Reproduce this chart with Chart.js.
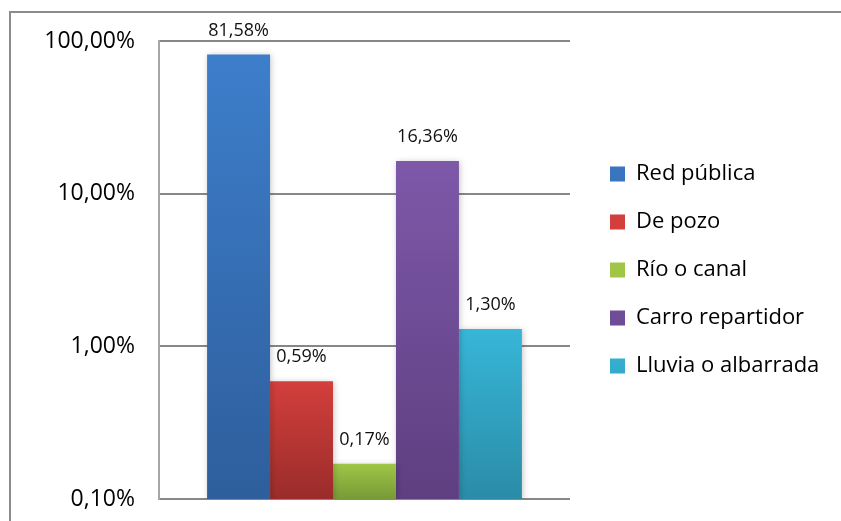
<!DOCTYPE html>
<html>
<head>
<meta charset="utf-8">
<script src="https://cdn.jsdelivr.net/npm/chart.js@4"></script>
<style>
  body { margin: 0; background: #fff; overflow: hidden; }
  #frame { position: absolute; left: 9px; top: 11px; width: 900px; height: 600px; border: 2px solid #8c8c8c; }
  canvas { position: absolute; left: 0; top: 0; }
</style>
</head>
<body>
<div id="frame"></div>
<canvas id="chart" width="841" height="521"></canvas>
<script>
const categories = [""];
const seriesNames = ["Red pública", "De pozo", "Río o canal", "Carro repartidor", "Lluvia o albarrada"];
const seriesValues = [81.58, 0.59, 0.17, 16.36, 1.30];
const yTicks = [0.1, 1, 10, 100];
const topColors = ["#3d7ecb", "#d33f3c", "#9fc647", "#7e58a9", "#37b6d8"];
const bottomColors = ["#2e5e9c", "#9a2c2a", "#779a36", "#5e3f80", "#2a8ca7"];

const fmt = v => v.toFixed(2).replace(".", ",") + "%";

function barGradient(i) {
  return function (c) {
    const chart = c.chart;
    const area = chart.chartArea;
    if (!area || !chart.scales.y) return topColors[i];
    const top = chart.scales.y.getPixelForValue(seriesValues[i]);
    const g = chart.ctx.createLinearGradient(0, top, 0, area.bottom);
    g.addColorStop(0, topColors[i]);
    g.addColorStop(1, bottomColors[i]);
    return g;
  };
}

const barShadow = {
  id: "barShadow",
  beforeDatasetsDraw(chart) {
    const ctx = chart.ctx;
    ctx.save();
    ctx.shadowColor = "rgba(0,0,0,0.22)";
    ctx.shadowBlur = 6;
    ctx.shadowOffsetX = 1;
    ctx.shadowOffsetY = 1;
  },
  afterDatasetsDraw(chart) {
    chart.ctx.restore();
  }
};

const valueLabels = {
  id: "valueLabels",
  afterDatasetsDraw(chart) {
    const ctx = chart.ctx;
    ctx.save();
    ctx.font = "18px 'Open Sans'";
    ctx.fillStyle = "#111";
    ctx.textAlign = "center";
    ctx.textBaseline = "middle";
    chart.data.datasets.forEach((ds, i) => {
      const bar = chart.getDatasetMeta(i).data[0];
      ctx.fillText(fmt(ds.data[0]), bar.x, bar.y - 24);
    });
    ctx.restore();
  }
};

const chart = new Chart(document.getElementById("chart").getContext("2d"), {
  type: "bar",
  data: {
    labels: categories,
    datasets: seriesNames.map((name, i) => ({
      label: name,
      data: [seriesValues[i]],
      backgroundColor: barGradient(i),
      borderWidth: 0,
      categoryPercentage: 0.766,
      barPercentage: 1,
    })),
  },
  options: {
    responsive: false,
    animation: false,
    layout: { padding: { left: 0, top: 41, right: 0, bottom: 22 } },
    scales: {
      x: { display: false },
      y: {
        type: "logarithmic",
        min: 0.1,
        max: 100,
        afterBuildTicks: s => { s.ticks = yTicks.map(v => ({ value: v })); },
        afterFit: s => {
          s.width = 159;
          s.paddingTop = 0;
          s.paddingBottom = 0;
        },
        ticks: {
          padding: 24,
          color: "#000",
          font: { family: "'Open Sans'", size: 23 },
          callback: v => fmt(v),
        },
        grid: { color: "#878787", lineWidth: 2, drawTicks: false },
        border: { color: "#a6a6a6", width: 2 },
      },
      gap: {
        position: "right",
        display: true,
        ticks: { display: false },
        grid: { display: false },
        border: { display: false },
        afterFit: s => { s.width = 14; },
      },
    },
    plugins: {
      tooltip: { enabled: false },
      legend: {
        position: "right",
        maxWidth: 600,
        labels: {
          color: "#000",
          font: { family: "'Open Sans'", size: 22 },
          boxWidth: 15,
          boxHeight: 15,
          padding: 26,
        },
      },
    },
  },
  plugins: [barShadow, valueLabels],
});

// keep the plot area's right edge at 570 whatever the legend text width turns out to be
const shift = 584 - chart.legend.left;
if (shift !== 0) {
  chart.options.layout.padding.right = Math.max(0, -shift);
  chart.update();
}
</script>
</body>
</html>
